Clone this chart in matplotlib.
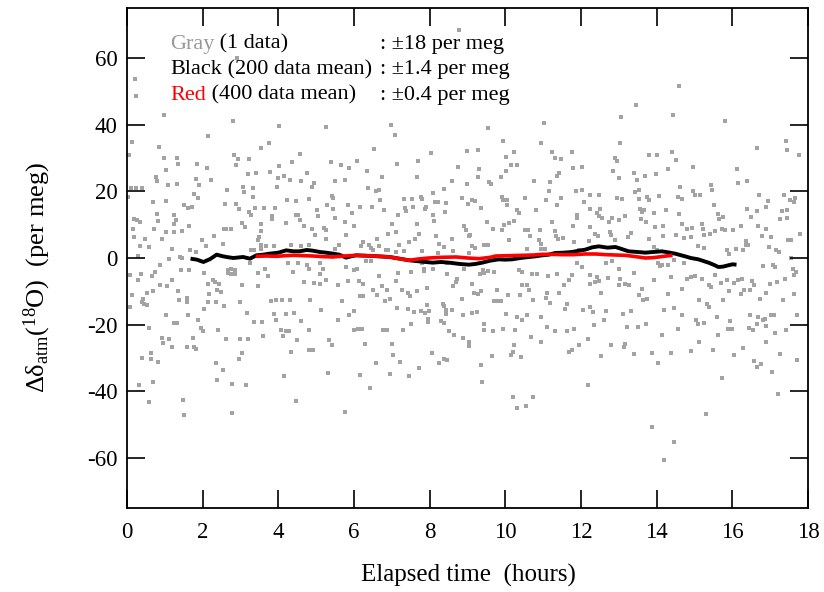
import matplotlib
matplotlib.use("Agg")
import matplotlib.pyplot as plt
import numpy as np

plt.rcParams['font.family'] = ['Liberation Serif', 'DejaVu Serif']
plt.rcParams['mathtext.fontset'] = 'custom'
plt.rcParams['mathtext.rm'] = 'Liberation Serif'
plt.rcParams['mathtext.it'] = 'Liberation Serif:italic'
plt.rcParams['axes.unicode_minus'] = False

# ---- individual data (gray), [hours, per meg] ----
gray_0_6h_top = [
    (0.22, 53.7), (0.24, 48.6), (0.99, 42.8), (2.81, 41.2), (2.92, 60.0), (4.03, 39.7), (5.25, 39.3),
    (2.13, 36.7), (0.12, 34.8), (0.84, 33.3), (3.75, 34.6), (3.55, 33.0), (0.05, 31.0), (0.98, 30.0),
    (1.32, 30.1), (2.82, 31.0), (2.94, 29.7), (3.23, 29.7), (4.56, 31.2), (1.36, 28.2), (1.84, 28.1),
    (2.89, 28.0), (4.37, 28.9), (4.02, 27.7), (5.39, 28.9), (5.66, 27.8), (5.86, 27.0), (1.04, 26.4),
    (2.12, 27.0), (3.21, 25.3), (3.40, 25.6), (3.77, 25.9), (4.77, 25.4)]
gray_0_6h_mid = [
    (0.77, 24.3), (0.79, 23.1), (1.82, 23.7), (2.22, 23.3), (1.09, 22.0), (1.33, 22.1), (1.90, 22.0),
    (0.11, 21.0), (0.25, 21.0), (0.39, 21.0), (0.04, 18.3), (1.77, 19.3), (1.89, 18.0), (2.65, 20.5),
    (3.07, 21.3), (3.10, 19.8), (3.33, 21.1), (4.00, 24.1), (4.16, 24.5), (4.32, 23.3), (4.59, 23.0),
    (4.94, 22.5), (4.89, 21.3), (5.51, 23.0), (5.75, 23.5), (3.96, 21.3), (3.32, 18.3), (4.81, 17.8),
    (5.41, 18.6), (5.44, 18.0), (4.24, 17.3), (4.47, 17.0), (0.68, 16.8), (1.04, 17.1), (1.51, 15.8),
    (1.61, 15.1), (1.71, 15.3), (2.59, 16.3), (2.89, 16.3), (2.96, 14.8), (3.38, 15.1), (3.62, 15.1),
    (3.90, 15.1), (5.29, 15.8), (5.44, 14.8), (5.83, 15.8), (5.94, 13.5), (5.03, 14.5), (0.80, 13.3),
    (1.25, 12.8), (3.23, 13.8), (3.29, 12.8), (3.83, 12.6), (3.82, 11.6), (4.47, 12.8), (4.53, 12.8),
    (5.04, 12.5), (0.18, 11.8), (0.26, 11.3), (0.35, 10.8), (0.83, 11.0), (1.30, 11.3), (1.23, 10.1),
    (3.04, 10.6), (3.11, 9.3), (3.53, 10.3), (4.19, 10.5), (4.56, 11.3), (4.67, 9.6), (4.89, 8.8),
    (5.20, 9.0), (5.25, 8.3), (5.50, 12.1), (5.75, 10.8), (6.01, 9.6), (0.15, 8.8), (0.72, 8.8),
    (1.04, 7.8), (1.23, 7.8), (1.46, 8.0), (1.64, 9.5), (2.56, 8.6), (2.63, 8.6), (2.75, 8.6),
    (3.54, 8.0), (2.31, 6.5), (3.48, 6.3), (3.47, 5.5), (4.96, 7.0), (5.26, 5.6), (5.79, 6.8),
    (0.19, 6.3), (0.48, 5.8), (0.92, 5.8), (1.99, 5.3), (2.53, 4.3), (3.53, 4.0), (3.67, 3.5),
    (3.89, 3.5), (4.34, 4.0), (4.61, 3.5), (4.81, 4.0), (5.61, 3.8), (5.50, 2.8), (0.35, 3.5),
    (0.59, 3.3), (1.18, 2.8), (1.67, 2.3), (1.82, 1.8), (2.09, 3.5), (3.29, 2.3), (3.36, 2.3),
    (3.55, 2.6), (0.29, 0.5), (1.39, 0.2), (1.46, 0.1), (1.11, -0.4), (0.86, -2.0), (3.25, -1.4),
    (4.25, -1.4), (4.52, -1.4), (4.76, -2.2), (5.09, -1.5), (1.43, -3.7), (1.64, -3.5), (2.04, -4.4),
    (2.66, -3.7), (2.76, -3.4), (2.85, -3.7), (2.68, -4.5), (2.74, -4.9), (2.85, -4.9), (3.46, -4.5),
    (3.66, -3.4), (3.73, -5.5), (4.39, -4.2), (4.82, -3.4), (5.09, -4.7), (5.19, -3.4), (5.79, -2.7),
    (5.99, -3.7), (0.38, -4.9), (0.09, -5.2), (0.66, -5.5), (0.73, -4.2), (0.29, -6.5), (1.19, -6.7),
    (1.07, -8.5), (0.88, -8.2), (2.15, -7.7), (2.28, -6.7), (2.32, -7.2), (2.44, -7.7), (2.39, -9.5),
    (2.48, -10.2), (2.18, -10.7), (3.05, -8.2), (3.45, -8.5), (4.68, -7.2), (4.93, -7.5), (5.26, -6.7),
    (5.11, -7.7), (5.57, -8.2), (5.83, -7.0), (0.13, -11.0), (0.53, -10.5), (0.68, -10.0), (1.36, -10.0),
    (1.38, -12.5), (1.58, -12.0), (1.58, -13.2), (0.42, -12.2), (0.44, -13.7), (0.53, -14.2), (0.39, -13.2),
    (0.07, -14.7), (2.15, -13.2), (2.34, -13.2), (2.57, -14.5), (2.98, -13.2), (3.80, -13.0), (3.95, -12.5),
    (4.10, -12.5), (4.30, -12.5), (4.85, -12.5), (5.68, -13.0), (2.04, -15.4), (3.16, -16.4), (1.03, -17.2),
    (1.62, -17.2), (3.88, -16.7), (4.19, -16.7), (4.41, -16.4), (5.13, -15.7), (6.01, -16.0), (5.88, -17.2),
    (1.23, -19.5), (1.33, -19.4), (1.87, -18.5), (3.36, -19.2), (3.58, -19.2), (3.93, -18.5), (4.61, -18.9),
    (5.59, -18.5), (0.57, -21.0), (1.95, -21.0), (2.00, -21.9), (2.41, -21.7), (4.08, -21.7), (4.19, -22.0),
    (4.28, -22.0), (4.82, -21.5), (6.01, -21.7), (3.60, -23.5), (4.12, -23.5), (0.92, -24.0), (1.10, -24.4),
    (1.75, -24.0), (2.63, -24.2), (2.98, -24.4), (3.20, -24.4), (4.49, -24.5), (5.35, -24.7), (0.96, -25.5)]
gray_0_6h_low = [
    (0.64, -28.6), (0.39, -30.1), (0.63, -30.4), (0.82, -31.3), (1.18, -26.7), (1.58, -26.6), (1.78, -26.6),
    (1.82, -27.4), (2.36, -31.4), (2.54, -33.5), (3.04, -28.5), (2.96, -30.4), (2.39, -36.6), (2.77, -37.8),
    (3.15, -38.0), (0.32, -38.1), (0.70, -37.1), (0.58, -43.3), (1.49, -42.7), (1.51, -47.0), (2.78, -46.6),
    (4.33, -28.1), (4.81, -27.6), (4.91, -27.6), (5.43, -26.1), (4.15, -35.5), (5.32, -34.4), (4.48, -43.0),
    (5.77, -46.1)]

gray_6_12h_top = [
    (8.78, 68.5), (6.98, 39.8), (7.09, 37.0), (9.53, 39.0), (11.02, 40.5), (9.95, 35.2), (10.93, 34.5),
    (6.52, 32.7), (8.03, 31.5), (9.00, 32.0), (9.28, 32.3), (10.24, 31.7), (10.03, 30.3), (11.24, 31.7),
    (11.31, 30.0), (11.48, 29.8), (11.76, 31.7), (6.09, 29.0), (6.35, 26.2), (7.13, 28.3), (7.70, 29.2),
    (8.75, 27.3), (9.31, 26.7), (10.14, 27.8), (10.30, 28.0), (10.03, 26.2), (11.43, 25.5), (11.80, 27.0),
    (12.03, 27.2)]
gray_6_12h_mid = [
    (6.74, 24.3), (7.66, 24.3), (9.29, 24.3), (9.89, 24.3), (11.37, 24.5), (8.60, 23.0), (8.98, 22.3),
    (9.57, 22.8), (9.61, 22.1), (10.77, 23.1), (11.19, 22.8), (6.37, 21.0), (6.59, 20.0), (6.66, 20.3),
    (8.10, 19.6), (8.38, 20.6), (11.15, 20.0), (11.88, 20.0), (12.02, 20.3), (6.70, 17.3), (7.33, 17.6),
    (7.52, 17.6), (7.77, 18.3), (7.81, 17.8), (8.14, 16.8), (8.21, 16.8), (8.43, 16.6), (8.85, 18.0),
    (9.13, 17.3), (9.20, 17.1), (9.92, 18.3), (9.95, 17.3), (10.05, 17.3), (10.05, 15.8), (10.51, 18.0),
    (11.08, 17.3), (11.47, 18.0), (11.37, 15.8), (12.07, 16.8), (6.15, 15.3), (6.48, 15.3), (6.79, 14.3),
    (7.36, 15.0), (7.38, 14.0), (7.55, 15.3), (7.90, 15.3), (7.88, 14.8), (8.40, 13.8), (9.02, 16.1),
    (9.35, 15.1), (10.30, 14.3), (10.36, 13.6), (10.81, 14.5), (11.89, 13.0), (11.89, 12.0), (7.16, 12.8),
    (8.10, 12.8), (8.12, 11.0), (7.01, 10.3), (7.67, 10.3), (9.52, 10.8), (10.23, 11.1), (10.10, 10.5),
    (9.96, 10.0), (11.24, 10.8), (11.78, 9.6), (8.91, 9.6), (8.95, 8.3), (9.68, 8.8), (9.90, 8.3),
    (10.53, 8.5), (10.60, 8.5), (10.91, 8.5), (11.32, 8.0), (6.89, 7.3), (7.11, 7.8), (7.73, 7.3),
    (8.17, 6.5), (9.04, 6.5), (9.07, 7.0), (10.66, 6.5), (11.35, 6.5), (11.38, 5.8), (6.60, 5.8),
    (7.60, 5.6), (8.58, 5.6), (10.10, 5.3), (10.88, 5.3), (10.94, 4.3), (11.52, 6.0), (11.81, 4.8),
    (6.24, 4.8), (6.39, 4.0), (7.20, 4.0), (7.45, 4.8), (8.24, 4.3), (8.38, 3.3), (9.13, 3.6),
    (9.20, 3.0), (9.44, 4.0), (9.53, 3.8), (6.45, 3.0), (6.50, 2.3), (6.19, 3.5), (6.67, 3.5),
    (6.85, 2.3), (6.91, 2.3), (7.11, 1.8), (7.31, 2.0), (7.80, 2.0), (8.21, 1.6), (8.63, 2.0),
    (9.04, 1.6), (10.58, 2.6), (10.93, 2.8), (11.06, 2.8), (11.94, 2.3), (6.32, -1.0), (6.45, -1.0),
    (7.79, -1.5), (7.86, -3.2), (7.86, -3.9), (8.45, -1.4), (8.08, -3.2), (8.47, -4.9), (8.91, -3.2),
    (9.42, -3.7), (9.33, -4.9), (9.44, -4.5), (9.55, -4.0), (9.70, -4.2), (10.36, -3.7), (10.45, -4.2),
    (10.71, -4.7), (10.84, -4.9), (11.12, -5.5), (11.37, -4.7), (11.76, -5.2), (11.67, -6.7), (11.89, -1.4),
    (12.03, -2.7), (6.09, -3.2), (6.66, -5.5), (7.17, -4.4), (7.51, -4.2), (8.72, -6.2), (8.69, -7.2),
    (8.63, -8.5), (9.11, -7.7), (7.11, -7.0), (6.13, -7.0), (6.25, -7.7), (6.74, -8.5), (7.26, -9.5),
    (7.42, -10.5), (7.48, -11.4), (7.67, -9.9), (7.93, -9.0), (6.88, -9.7), (6.50, -9.5), (6.17, -11.5),
    (6.25, -11.5), (6.60, -11.2), (6.94, -12.4), (6.81, -13.0), (9.17, -10.5), (9.29, -10.7), (9.35, -10.0),
    (9.79, -9.7), (10.08, -11.2), (10.43, -8.2), (10.56, -8.0), (10.40, -11.0), (10.62, -9.7), (11.09, -10.5),
    (11.41, -10.5), (11.54, -8.0), (8.85, -12.4), (9.70, -13.0), (9.79, -13.0), (9.89, -12.9), (10.74, -12.7),
    (11.17, -13.5), (11.08, -12.0), (11.63, -13.9), (11.57, -15.2), (7.14, -14.9), (7.42, -15.2), (7.93, -14.2),
    (8.34, -13.7), (8.38, -14.5), (7.58, -16.2), (7.77, -16.0), (7.88, -16.5), (7.99, -16.0), (8.43, -15.7),
    (8.43, -16.7), (8.58, -15.5), (8.88, -17.0), (9.11, -16.4), (9.24, -16.2), (10.03, -16.7), (10.31, -17.7),
    (10.45, -18.7), (10.58, -17.2), (10.93, -17.7), (12.04, -15.5), (7.95, -18.2), (7.96, -19.2), (8.30, -18.9),
    (8.38, -19.5), (7.51, -19.7), (6.10, -21.4), (6.21, -21.4), (6.76, -21.7), (6.88, -21.5), (7.29, -21.5),
    (8.52, -22.0), (8.65, -23.2), (8.87, -24.0), (9.44, -19.9), (9.44, -21.5), (9.67, -22.0), (9.95, -21.2),
    (10.25, -21.7), (10.68, -23.7), (11.09, -20.7), (11.32, -22.0), (11.63, -22.0), (11.81, -21.4), (7.00, -25.7),
    (9.04, -25.2), (10.93, -25.2)]
gray_6_12h_low = [
    (6.28, -25.7), (10.22, -26.0), (11.96, -26.0), (7.04, -29.0), (6.59, -31.4), (7.21, -31.2), (6.17, -35.0),
    (6.94, -34.8), (7.45, -35.3), (7.73, -32.9), (8.06, -28.6), (8.24, -31.6), (8.39, -30.4), (8.45, -30.5),
    (6.42, -39.0), (9.03, -26.5), (9.37, -32.2), (9.38, -37.3), (9.64, -29.5), (10.16, -29.2), (10.19, -28.2),
    (10.42, -29.6), (10.20, -41.8), (10.31, -45.1), (10.55, -44.4), (10.74, -41.6), (11.67, -28.1), (11.75, -27.6)]

gray_12_18h_top = [
    (14.60, 51.7), (13.45, 46.0), (13.06, 42.4), (14.43, 43.0), (15.80, 41.2), (13.04, 34.4), (12.89, 30.0),
    (12.94, 29.2), (13.80, 30.8), (14.00, 30.8), (14.41, 31.7), (14.51, 29.5), (14.97, 27.3), (14.30, 26.8),
    (16.11, 26.6), (16.65, 32.9), (17.42, 35.1), (17.44, 32.5), (17.77, 31.0), (12.85, 26.0), (13.41, 25.5),
    (13.97, 25.3)]
gray_12_18h_mid = [
    (13.00, 24.0), (13.48, 23.5), (13.70, 24.5), (16.14, 22.6), (16.39, 23.0), (14.62, 21.3), (14.95, 20.0),
    (15.44, 21.8), (15.45, 20.3), (13.44, 19.8), (13.52, 20.3), (12.25, 18.8), (12.47, 18.8), (12.95, 18.0),
    (13.08, 17.6), (13.52, 17.6), (13.74, 18.3), (13.79, 17.3), (14.05, 18.6), (14.56, 18.3), (14.66, 17.8),
    (15.00, 18.8), (15.15, 19.0), (16.70, 18.8), (17.37, 19.0), (17.52, 17.3), (17.66, 18.0), (17.63, 16.8),
    (16.94, 17.1), (15.52, 16.0), (12.23, 14.8), (12.51, 14.8), (13.57, 14.8), (13.66, 14.3), (13.61, 13.8),
    (13.94, 13.5), (14.25, 14.3), (14.58, 13.3), (16.40, 14.8), (16.64, 14.0), (17.30, 14.0), (17.45, 14.3),
    (16.90, 15.3), (12.43, 13.5), (12.47, 12.6), (12.56, 12.0), (12.82, 12.0), (12.75, 10.8), (13.00, 11.3),
    (13.16, 12.5), (13.58, 11.8), (13.73, 10.8), (15.63, 13.1), (15.66, 11.8), (15.74, 12.3), (16.49, 12.3),
    (17.25, 11.6), (17.44, 12.0), (14.66, 10.3), (14.80, 8.8), (14.93, 9.0), (15.19, 10.3), (15.23, 8.8),
    (16.68, 9.6), (16.90, 8.8), (16.24, 9.5), (13.96, 9.3), (14.16, 9.5), (12.25, 9.3), (15.54, 8.1),
    (15.73, 8.8), (15.80, 8.5), (16.02, 8.3), (12.76, 7.8), (12.78, 6.8), (12.38, 7.3), (12.45, 6.5),
    (13.33, 7.5), (13.24, 6.3), (14.16, 6.5), (14.51, 6.8), (14.71, 6.0), (14.91, 6.3), (15.26, 6.8),
    (15.41, 7.3), (16.37, 5.0), (16.41, 4.0), (16.79, 6.5), (17.01, 6.3), (17.47, 5.5), (17.56, 5.5),
    (17.80, 7.1), (12.89, 5.3), (13.81, 5.8), (12.21, 5.0), (15.10, 3.6), (15.26, 3.0), (15.87, 2.5),
    (15.91, 1.3), (16.09, 2.8), (16.27, 2.3), (16.36, 3.8), (16.96, 3.3), (17.16, 2.3), (17.23, 1.8),
    (17.54, 0.0), (13.94, 3.3), (14.00, 2.3), (12.65, -1.4), (12.82, -1.0), (14.03, -1.4), (14.14, -2.0),
    (14.09, -2.4), (14.47, -0.7), (14.73, -1.4), (14.30, -2.0), (13.39, -4.5), (13.00, -3.4), (16.81, -2.4),
    (17.08, -2.0), (17.14, -2.7), (17.60, -3.4), (17.69, -4.2), (17.63, -5.0), (12.25, -5.0), (12.41, -5.7),
    (12.47, -7.0), (12.38, -7.2), (12.25, -7.7), (12.72, -6.0), (13.02, -6.4), (13.00, -8.2), (13.17, -7.7),
    (13.26, -8.2), (13.92, -6.7), (14.38, -5.7), (14.80, -6.4), (14.91, -5.7), (15.01, -5.4), (15.19, -6.4),
    (15.37, -8.0), (15.44, -8.7), (15.54, -5.0), (15.70, -7.4), (15.85, -6.7), (16.05, -7.4), (16.16, -6.5),
    (16.26, -6.2), (16.51, -7.0), (16.58, -8.2), (16.99, -7.7), (17.19, -7.2), (17.38, -6.4), (12.54, -10.5),
    (13.61, -9.2), (13.54, -11.2), (13.74, -12.2), (13.63, -12.5), (14.31, -10.7), (14.68, -9.2), (15.13, -12.7),
    (15.37, -14.7), (15.32, -13.7), (15.91, -10.0), (15.76, -12.7), (16.24, -10.7), (16.31, -9.7), (16.46, -9.7),
    (16.73, -12.4), (16.90, -10.4), (17.34, -12.7), (17.63, -10.9), (12.25, -14.7), (12.31, -16.2), (12.67, -15.9),
    (13.11, -16.7), (13.32, -15.9), (14.20, -15.5), (14.47, -15.0), (14.66, -17.2), (15.04, -18.7), (15.08, -19.7),
    (15.60, -17.7), (15.95, -18.9), (16.46, -17.0), (16.68, -17.7), (16.81, -18.5), (16.86, -18.2), (17.03, -17.2),
    (17.10, -17.0), (17.72, -17.0), (12.62, -18.7), (12.34, -20.2), (13.22, -20.7), (13.51, -20.7), (13.73, -19.7),
    (14.56, -21.2), (15.25, -19.5), (15.89, -21.4), (15.98, -21.4), (16.44, -21.0), (16.55, -21.7), (16.66, -19.7),
    (16.88, -20.5), (17.12, -22.4), (17.41, -21.5), (12.19, -24.2), (13.15, -25.7), (14.14, -23.2), (15.13, -25.2),
    (15.61, -23.0), (16.90, -25.2)]
gray_12_18h_low = [
    (12.80, -26.0), (13.14, -26.7), (12.54, -29.5), (13.40, -28.8), (13.87, -28.4), (14.03, -31.6), (14.37, -28.6),
    (14.90, -27.8), (15.49, -27.5), (16.04, -29.2), (16.28, -27.1), (17.25, -28.8), (16.57, -31.0), (16.66, -32.6),
    (16.75, -31.9), (17.04, -34.3), (17.72, -30.7), (15.72, -35.9), (12.19, -38.0), (17.21, -40.7), (15.30, -46.9),
    (13.88, -50.6), (14.45, -55.3), (14.20, -60.6)]

# ---- 200-data running mean (black) ----
black_hours = [1.68, 1.85, 2.02, 2.20, 2.37, 2.50, 2.63, 2.81, 3.07, 3.25, 3.42, 3.60, 3.77, 4.00, 4.21,
               4.40, 4.56, 4.75, 4.91, 5.10, 5.26, 5.45, 5.61, 5.79, 5.92, 6.06, 6.50, 6.94, 7.20, 7.46,
               7.80, 8.08, 8.30, 8.52, 8.80, 9.04, 9.20, 9.39, 9.60, 9.83, 10.00, 10.18, 10.40, 10.62,
               10.80, 10.97, 11.15, 11.32, 11.55, 11.76, 11.95, 12.11, 12.30, 12.47, 12.70, 12.91, 13.10,
               13.26, 13.50, 13.70, 13.90, 14.14, 14.30, 14.49, 14.75, 14.90, 15.10, 15.37, 15.50, 15.63,
               15.75, 15.89, 16.00, 16.11]
black_values = [-0.2, -0.5, -1.2, -0.3, 1.0, 0.6, 0.3, 0.0, 0.3, -0.2, 0.8, 1.0, 1.3, 1.6, 2.3,
                2.0, 2.0, 2.4, 2.2, 1.8, 1.6, 1.3, 1.0, 0.1, 0.5, 0.8, 0.6, 0.3, -0.2, -0.7,
                -1.1, -1.4, -1.2, -1.4, -1.8, -2.0, -1.8, -1.4, -0.8, -0.4, -0.5, -0.4, 0.0, 0.3,
                0.5, 0.8, 1.0, 1.5, 1.6, 1.8, 2.2, 2.5, 3.2, 3.5, 3.1, 3.3, 2.6,
                2.0, 1.8, 1.6, 1.8, 2.0, 1.7, 1.3, 0.5, 0.0, -0.4, -1.4, -2.0, -2.7,
                -2.6, -2.2, -1.9, -2.0]

# ---- 400-data running mean (red) ----
red_hours = [3.40, 3.70, 3.95, 4.20, 4.39, 4.65, 4.91, 5.20, 5.44, 5.75, 6.05, 6.50, 6.94, 7.20, 7.46,
             7.70, 7.98, 8.30, 8.70, 9.00, 9.31, 9.60, 9.75, 10.10, 10.45, 10.75, 10.97, 11.20, 11.50,
             11.80, 12.11, 12.40, 12.65, 12.90, 13.17, 13.45, 13.70, 13.90, 14.05, 14.25, 14.42]
red_values = [0.5, 0.6, 0.5, 0.7, 0.8, 0.7, 0.6, 0.4, 0.3, 0.6, 0.8, 0.6, 0.3, -0.2, -0.7,
              -0.3, 0.0, 0.2, 0.3, 0.0, -0.2, 0.2, 0.6, 0.7, 0.8, 0.9, 1.1, 1.1, 1.0,
              1.0, 1.2, 1.2, 1.0, 0.9, 0.8, 0.4, 0.0, 0.1, 0.3, 0.6, 0.8]

x_ticks = [0, 2, 4, 6, 8, 10, 12, 14, 16, 18]
y_ticks = [-60, -40, -20, 0, 20, 40, 60]

gray_all = np.array(gray_0_6h_top + gray_0_6h_mid + gray_0_6h_low +
                    gray_6_12h_top + gray_6_12h_mid + gray_6_12h_low +
                    gray_12_18h_top + gray_12_18h_mid + gray_12_18h_low)

fig = plt.figure(figsize=(8.24, 5.92), dpi=100)
ax = fig.add_axes([0.1541, 0.1419, 0.8265, 0.8446])

ax.plot(gray_all[:, 0], gray_all[:, 1], linestyle='none', marker='s', markersize=2.4,
        markeredgewidth=0, color='#a3a3a3', zorder=1)
ax.plot(black_hours, black_values, color='black', linewidth=2.8, zorder=2,
        solid_capstyle='butt')
ax.plot(red_hours, red_values, color='#ff0000', linewidth=2.6, zorder=3,
        solid_capstyle='butt')

ax.set_xlim(0, 18)
ax.set_ylim(-75, 75)
ax.set_xticks(x_ticks)
ax.set_yticks(y_ticks)
ax.tick_params(direction='in', length=13, width=1.2, top=True, right=True,
               labelsize=16.5, colors='black')
ax.tick_params(axis='y', pad=7)
ax.tick_params(axis='x', pad=10)
for s in ax.spines.values():
    s.set_linewidth(1.3)

ax.set_xlabel('Elapsed time  (hours)', fontsize=18)
ax.set_ylabel('\u0394\u03b4$_{\\mathrm{atm}}$($^{18}$O)  (per meg)', fontsize=19)
ax.xaxis.set_label_coords(0.5007, -0.112)
ax.yaxis.set_label_coords(-0.108, 0.462)

fs = 16
rows = [(0.9186, 'Gray', '#999999', ' (1 data)', ': \u00b118 per meg'),
        (0.868, 'Black', 'black', ' (200 data mean)', ': \u00b11.4 per meg'),
        (0.8166, 'Red', '#ff0000', ' (400 data mean)', ': \u00b10.4 per meg')]
for y, word, col, rest, err in rows:
    t = ax.text(0.063, y, word, color=col, fontsize=fs, transform=ax.transAxes,
                va='baseline')
    ax.annotate(rest, xy=(1, 0), xycoords=t, color='black', fontsize=fs, va='bottom')
    ax.text(0.3715, y, err, color='black', fontsize=fs, transform=ax.transAxes,
            va='baseline')

fig.savefig('out.png', dpi=100)
